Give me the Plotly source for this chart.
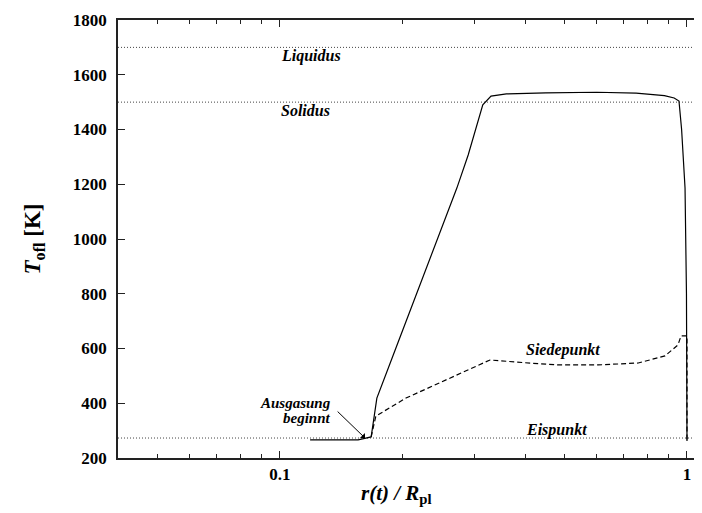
import math
import plotly.graph_objects as go

# Solid curve: T_ofl vs r(t)/R_pl
solid_x = [0.1186, 0.1556, 0.1675, 0.173, 0.1927, 0.272, 0.290, 0.315, 0.330, 0.360,
           0.45, 0.60, 0.75, 0.88, 0.93, 0.9557, 0.970, 0.989, 0.997, 1.0]
solid_y = [266, 266, 277, 419, 602, 1186, 1307, 1490, 1522, 1530,
           1534, 1536, 1533, 1524, 1515, 1504, 1400, 1186, 800, 262]

# Dashed curve: Siedepunkt
dash_x = [0.1675, 0.172, 0.204, 0.328, 0.40, 0.482, 0.605, 0.759, 0.883, 0.95, 0.967, 1.0, 1.0]
dash_y = [277, 353, 419, 558, 548, 540, 540, 547, 573, 613, 646, 646, 262]

# Reference levels
level_names = ["Liquidus", "Solidus", "Eispunkt"]
level_values = [1700, 1500, 273]

x_range = [0.04, 1.139]
major_ticks = [0.1, 1]
major_labels = ["0.1", "1"]
minor_ticks = [0.05, 0.06, 0.07, 0.08, 0.09, 0.2, 0.3, 0.4, 0.5, 0.6, 0.7, 0.8, 0.9]

FONT = "Liberation Serif"

fig = go.Figure()

for v in level_values:
    fig.add_trace(go.Scatter(x=x_range, y=[v, v], mode="lines",
                             line=dict(color="#444444", width=1, dash="1px,2px"),
                             showlegend=False, hoverinfo="skip"))

fig.add_trace(go.Scatter(x=solid_x, y=solid_y, mode="lines",
                         line=dict(color="black", width=1.2), showlegend=False))
fig.add_trace(go.Scatter(x=dash_x, y=dash_y, mode="lines",
                         line=dict(color="black", width=1.2, dash="5px,3px"), showlegend=False))

lab = dict(family=FONT, size=16, color="black")


def ann(text, x, y, xanchor, size=16):
    fig.add_annotation(x=math.log10(x), y=y, xref="x", yref="y", text=text,
                       showarrow=False, xanchor=xanchor, yanchor="middle",
                       font=dict(family=FONT, size=size, color="black"),
                       borderpad=0)


ann("<b><i>Liquidus</i></b>", 0.1, 1668, "left")
ann("<b><i>Solidus</i></b>", 0.1, 1468, "left")
ann("<b><i>Eispunkt</i></b>", 0.4, 302, "left")
ann("<b><i>Siedepunkt</i></b>", 0.4, 595, "left")
ann("<b><i>Ausgasung</i></b>", 0.134, 402, "right", 15)
ann("<b><i>beginnt</i></b>", 0.134, 346, "right", 15)

fig.add_annotation(x=math.log10(0.1618), y=273, xref="x", yref="y",
                   ax=math.log10(0.1374), ay=375, axref="x", ayref="y",
                   text="", showarrow=True, arrowhead=1, arrowsize=1.2,
                   arrowwidth=1, arrowcolor="black")

# x-axis title as a paper annotation
fig.add_annotation(x=0.47, y=-0.083, xref="paper", yref="paper",
                   text="<b><i>r(t) / R</i><sub>pl</sub></b>", showarrow=False,
                   xanchor="center", yanchor="middle",
                   font=dict(family=FONT, size=21, color="black"))

fig.update_layout(
    width=702, height=513,
    margin=dict(l=110, r=0, t=12, b=63),
    paper_bgcolor="white", plot_bgcolor="white",
    font=dict(family=FONT, color="black"),
    xaxis=dict(
        type="log", range=[math.log10(0.04), math.log10(1.139)],
        tickmode="array", tickvals=major_ticks, ticktext=major_labels,
        ticks="inside", ticklen=7, tickwidth=1, tickcolor="#222",
        showline=True, linecolor="#222", linewidth=1.5, mirror="ticks",
        showgrid=False, zeroline=False,
        tickfont=dict(family=FONT, size=17, weight="bold", color="black"),
        minor=dict(tickmode="array", tickvals=minor_ticks, ticks="inside",
                   ticklen=4, tickwidth=1, tickcolor="#222", showgrid=False),
    ),
    yaxis=dict(
        range=[200, 1800], dtick=200, tick0=200,
        ticks="inside", ticklen=7, tickwidth=1, tickcolor="#222",
        showline=True, linecolor="#222", linewidth=1.5, mirror=False,
        showgrid=False, zeroline=False,
        tickfont=dict(family=FONT, size=17, weight="bold", color="black"),
        ticklabelstandoff=6,
        title=dict(text="<b><i>T</i><sub>ofl</sub> [K]</b>",
                   font=dict(family=FONT, size=23, color="black"), standoff=26),
    ),
)

fig.write_html("out.html")
